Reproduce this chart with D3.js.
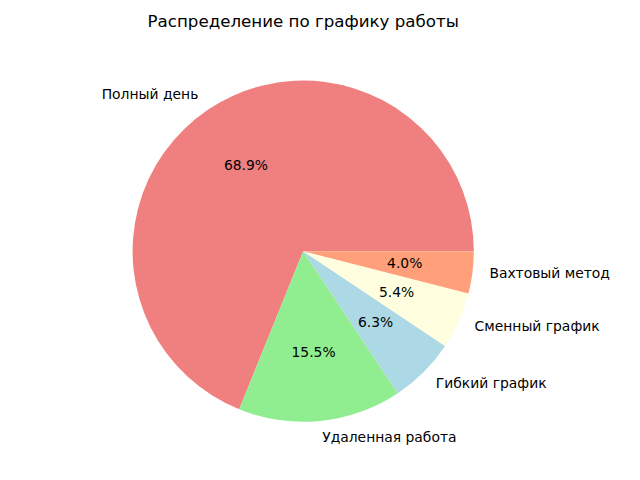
<!DOCTYPE html>
<html><head><meta charset="utf-8">
<script src="https://cdn.jsdelivr.net/npm/d3@7"></script>
<style>body{margin:0;background:#fff;} text{font-family:"DejaVu Sans",sans-serif;}</style>
</head><body>
<svg id="c" width="640" height="480"></svg>
<script>
const categories = ["Полный день","Удаленная работа","Гибкий график","Сменный график","Вахтовый метод"];
const values = [68.88, 15.47, 6.28, 5.38, 3.99];
const colors = ["#f08080","#90ee90","#add8e6","#ffffe0","#ffa07a"];
const title = "Распределение по графику работы";

const svg = d3.select("#c");
const cx = 303.2, cy = 251.2, r = 170.6;
const g = svg.append("g").attr("transform", `translate(${cx},${cy})`);
const data = categories.map((c,i)=>({c, v: values[i], col: colors[i]}));
const pie = d3.pie().value(d=>d.v).sort(null).startAngle(Math.PI/2).endAngle(Math.PI/2 - 2*Math.PI);
const arcs = pie(data);
const arc = d3.arc().innerRadius(0).outerRadius(r);
const total = d3.sum(values);
g.selectAll("path").data(arcs).enter().append("path")
  .attr("d", arc).attr("fill", d=>d.data.col);
arcs.forEach(a=>{
  const mid = (a.startAngle + a.endAngle)/2;
  const x = Math.sin(mid), y = -Math.cos(mid);
  g.append("text").attr("x", 1.1*r*x).attr("y", 1.1*r*y).attr("dy","0.276em")
    .attr("text-anchor", x < 0 ? "end" : "start")
    .attr("font-size","13.89px").attr("fill","#000").text(a.data.c);
  g.append("text").attr("x", 0.6*r*x).attr("y", 0.6*r*y).attr("dy","0.276em")
    .attr("text-anchor","middle")
    .attr("font-size","13.89px").attr("fill","#000")
    .text((a.data.v/total*100).toFixed(1)+"%");
});
svg.append("text").attr("x", 303.2).attr("y", 26.5).attr("text-anchor","middle")
  .attr("font-size","16.67px").attr("fill","#000").text(title);
</script>
</body></html>
